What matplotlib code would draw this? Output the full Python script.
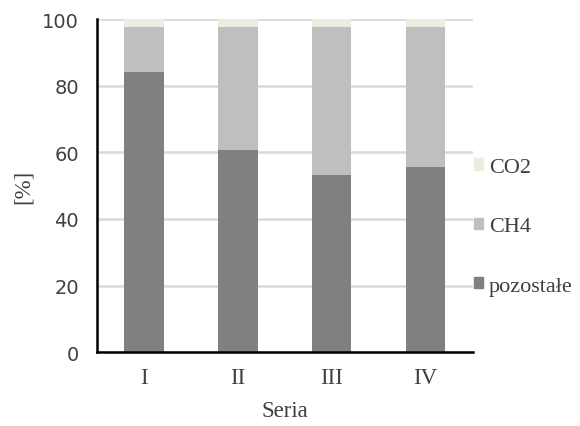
import matplotlib
matplotlib.use("Agg")
import matplotlib.pyplot as plt
import numpy as np
from matplotlib.patches import Patch

categories = ["I", "II", "III", "IV"]
pozostale = [84.1, 60.8, 53.3, 55.7]
ch4 = [13.5, 36.8, 44.3, 41.9]
co2 = [2.4, 2.4, 2.4, 2.4]
yticks = [0, 20, 40, 60, 80, 100]

c_poz = "#808080"
c_ch4 = "#bfbfbf"
c_co2 = "#eeece1"

fig = plt.figure(figsize=(5.8, 4.27), dpi=100)
ax = fig.add_axes([0.167, 0.173, 0.648, 0.780])

x = np.arange(len(categories))
w = 0.42
p = np.array(pozostale)
c = np.array(ch4)
ax.bar(x, pozostale, w, color=c_poz, zorder=3)
ax.bar(x, ch4, w, bottom=p, color=c_ch4, zorder=3)
ax.bar(x, co2, w, bottom=p + c, color=c_co2, zorder=3)

ax.set_xlim(-0.5, 3.5)
ax.set_ylim(0, 100)
ax.set_yticks(yticks)
ax.set_yticklabels([str(v) for v in yticks], fontsize=14, color="#404040", family="DejaVu Sans")
ax.set_xticks(x)
ax.set_xticklabels(categories, fontsize=16.5, family="Liberation Serif", color="#404040")
ax.tick_params(axis="y", length=0, pad=13)
ax.tick_params(axis="x", length=0, pad=11)
ax.yaxis.grid(True, color="#d9d9d9", linewidth=1.8, zorder=0)
ax.set_axisbelow(True)
for s in ["top", "right"]:
    ax.spines[s].set_visible(False)
ax.spines["left"].set_linewidth(1.8)
ax.spines["bottom"].set_linewidth(1.8)
ax.spines["left"].set_zorder(4)
ax.spines["bottom"].set_zorder(4)

ax.set_ylabel("[%]", fontsize=16.5, family="Liberation Serif", color="#404040", labelpad=6)
ax.set_xlabel("Seria", fontsize=16.5, family="Liberation Serif", color="#404040", labelpad=8)

handles = [Patch(color=c_co2), Patch(color=c_ch4), Patch(color=c_poz)]
labels = ["CO2", "CH4", "pozostałe"]
fig.legend(handles, labels, loc="upper left", bbox_to_anchor=(0.818, 0.628),
           frameon=False, prop={"family": "Liberation Serif", "size": 16},
           borderpad=0, borderaxespad=0,
           handlelength=0.4, handleheight=0.4, handletextpad=0.25,
           labelspacing=1.82, labelcolor="#404040")

fig.savefig("out.png", dpi=100)
